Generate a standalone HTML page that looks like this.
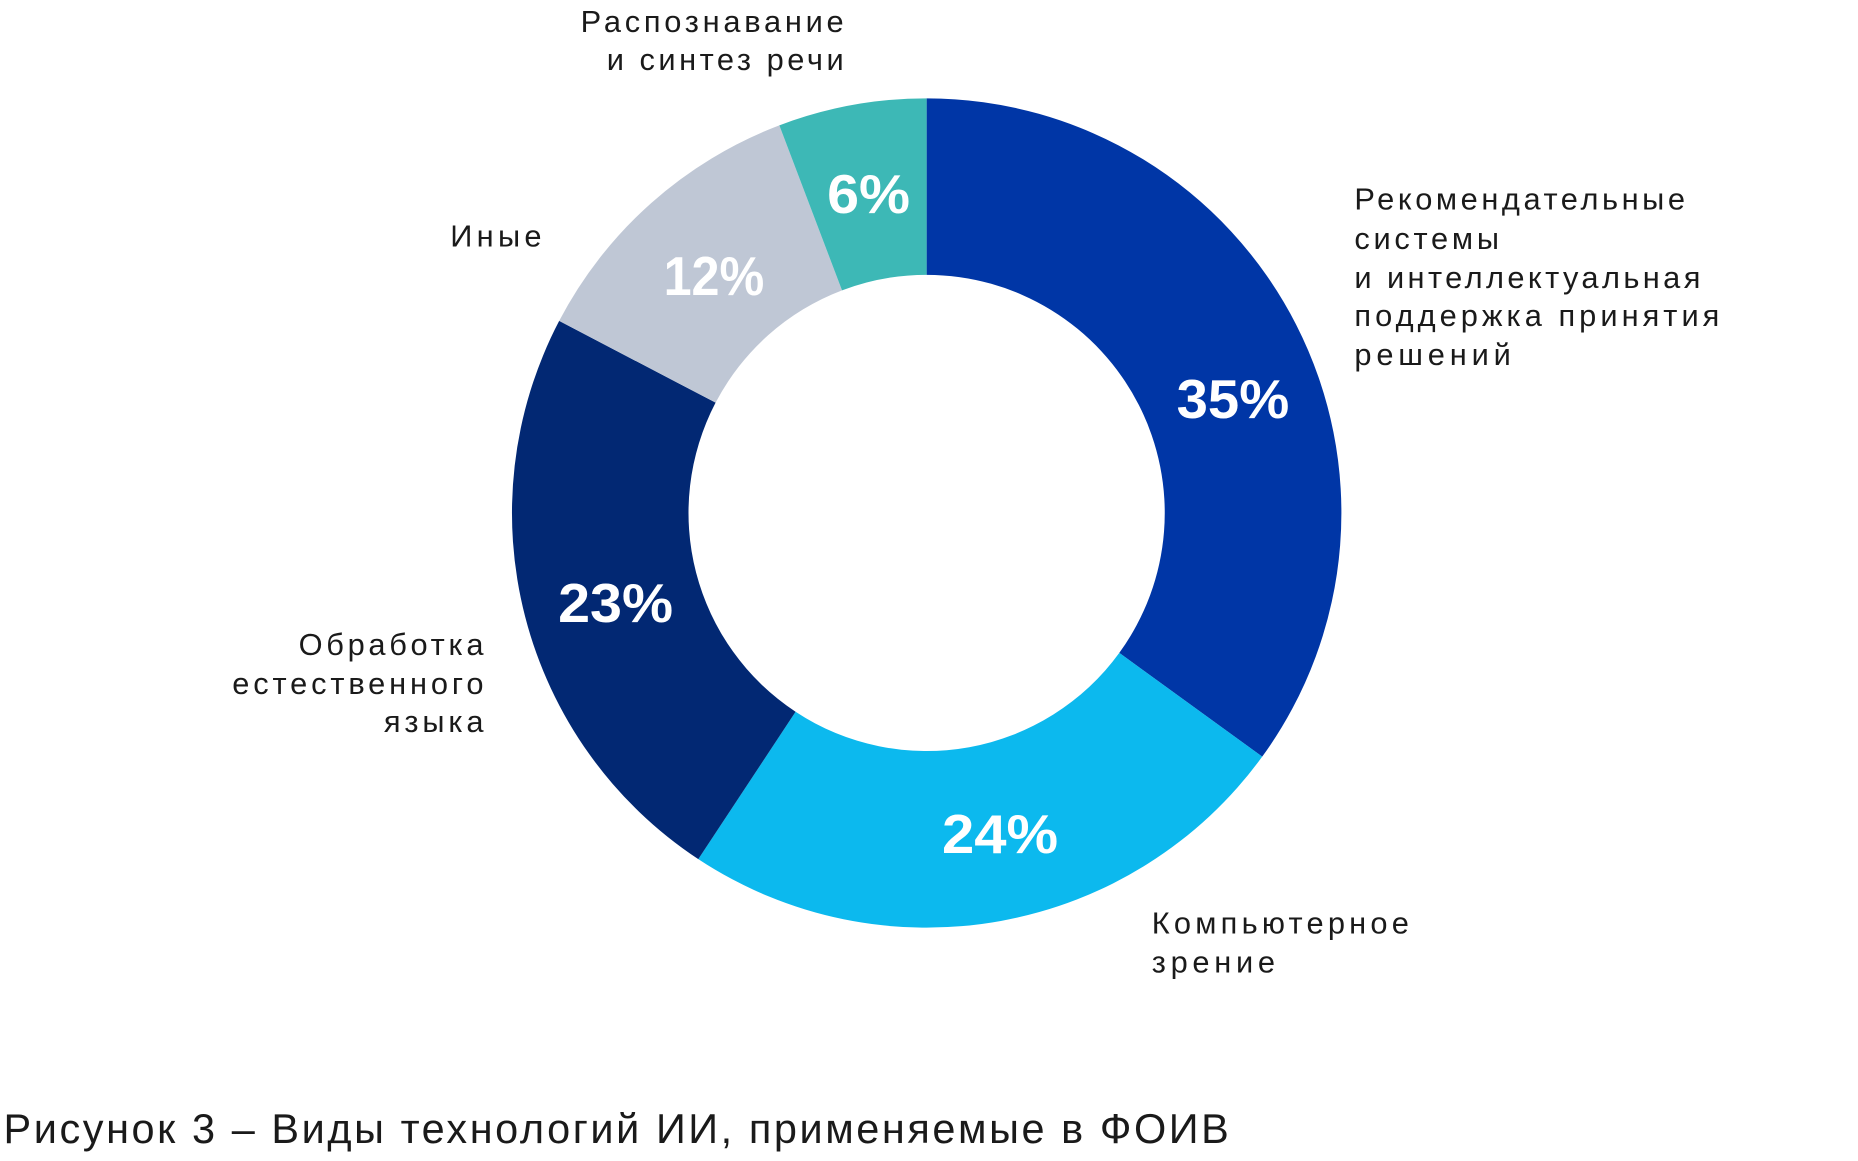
<!DOCTYPE html>
<html><head><meta charset="utf-8"><style>
html,body{margin:0;padding:0;background:#fff;width:1858px;height:1161px;overflow:hidden}
svg{display:block}
text{font-family:"Liberation Sans","Noto Sans CJK SC",sans-serif}
.l{font-size:26px;fill:#1a1a1a}
.p{font-size:46px;font-weight:bold;fill:#fff}
</style></head><body>
<svg width="1858" height="1161" viewBox="0 0 1568 980" preserveAspectRatio="none">
<g transform="translate(782,433)">
<path d="M0,-350 A350,350 0 0 1 283.2,205.7 L162.6,118.1 A201,201 0 0 0 0,-201 Z" fill="#0036a6"/>
<path d="M283.2,205.7 A350,350 0 0 1 -192.7,292.2 L-110.6,167.8 A201,201 0 0 0 162.6,118.1 Z" fill="#0cb9ee"/>
<path d="M-192.7,292.2 A350,350 0 0 1 -310.1,-162.1 L-178.1,-93.1 A201,201 0 0 0 -110.6,167.8 Z" fill="#022873"/>
<path d="M-310.1,-162.1 A350,350 0 0 1 -124.3,-327.2 L-71.4,-187.9 A201,201 0 0 0 -178.1,-93.1 Z" fill="#bfc7d5"/>
<path d="M-124.3,-327.2 A350,350 0 0 1 0,-350 L0,-201 A201,201 0 0 0 -71.4,-187.9 Z" fill="#3db8b6"/>
</g>
<text class="p" x="993" y="353" textLength="95" lengthAdjust="spacingAndGlyphs">35%</text>
<text class="p" x="795" y="720" textLength="98" lengthAdjust="spacingAndGlyphs">24%</text>
<text class="p" x="471" y="525" textLength="97" lengthAdjust="spacingAndGlyphs">23%</text>
<text class="p" x="560" y="249" textLength="85" lengthAdjust="spacingAndGlyphs">12%</text>
<text class="p" x="698" y="180" textLength="70" lengthAdjust="spacingAndGlyphs">6%</text>
<text class="l" x="490" y="27" textLength="222">Распознавание</text>
<text class="l" x="512" y="59" textLength="200">и синтез речи</text>
<text class="l" x="380" y="208" textLength="77">Иные</text>
<text class="l" x="1143" y="177" textLength="279">Рекомендательные</text>
<text class="l" x="1143" y="210" textLength="122">системы</text>
<text class="l" x="1143" y="243" textLength="292">и интеллектуальная</text>
<text class="l" x="1143" y="275" textLength="308">поддержка принятия</text>
<text class="l" x="1143" y="308" textLength="132">решений</text>
<text class="l" x="252" y="553" textLength="156">Обработка</text>
<text class="l" x="196" y="586" textLength="212">естественного</text>
<text class="l" x="324" y="618" textLength="84">языка</text>
<text class="l" x="972" y="788" textLength="217">Компьютерное</text>
<text class="l" x="972" y="821" textLength="104">зрение</text>
<text x="3" y="965" style="font-size:35px;fill:#1a1a1a" textLength="1034">Рисунок 3 – Виды технологий ИИ, применяемые в ФОИВ</text>
</svg>
</body></html>
